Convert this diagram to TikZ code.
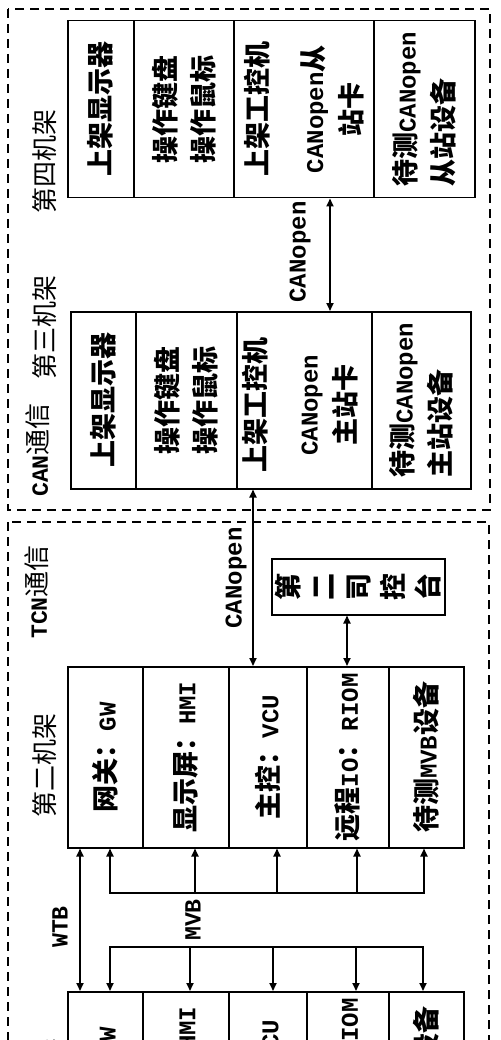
\documentclass[tikz,border=0pt]{standalone}
\usepackage{fontspec}
\setmainfont{Noto Sans CJK SC}
\newfontfamily\latfont{Liberation Mono}[Scale=0.89]
\newcommand\latn[1]{{\latfont\bfseries #1}}
\usetikzlibrary{arrows.meta}
\tikzset{
  box/.style={draw, line width=1.5pt, inner sep=0pt, anchor=north west},
  btxt/.style={rotate=90, font=\fontsize{27pt}{38pt}\selectfont\bfseries, align=center, inner sep=0pt},
  lbl/.style={rotate=90, font=\fontsize{26pt}{30pt}\selectfont, inner sep=0pt},
  conn/.style={line width=1.8pt, {Triangle[length=8pt,width=7pt]}-{Triangle[length=8pt,width=7pt]}},
  bus/.style={line width=1.8pt, line cap=rect},
  busarr/.style={line width=1.8pt, -{Triangle[length=8pt,width=7pt]}},
  frame/.style={line width=1.5pt, dash pattern=on 9pt off 6pt}
}
\begin{document}
\begin{tikzpicture}[x=1pt,y=-1pt]
\useasboundingbox (0,0) rectangle (500,1040);
\clip (0,0) rectangle (500,1040);
% frames
\draw[frame] (8,9) rectangle (490,510);
\draw[frame] (8,522) rectangle (489,1120);
% rack 4
\node[box, minimum width=66pt, minimum height=177pt] (r4a) at (67,20) {};
\node[box, minimum width=100pt, minimum height=177pt] (r4b) at (133,20) {};
\node[box, minimum width=140pt, minimum height=177pt] (r4c) at (233,20) {};
\node[box, minimum width=101pt, minimum height=177pt] (r4d) at (373,20) {};
% rack 3
\node[box, minimum width=65pt, minimum height=177pt] (r3a) at (70,311) {};
\node[box, minimum width=101pt, minimum height=177pt] (r3b) at (135,311) {};
\node[box, minimum width=135pt, minimum height=177pt] (r3c) at (236,311) {};
\node[box, minimum width=99pt, minimum height=177pt] (r3d) at (371,311) {};
% rack 2
\node[box, minimum width=75pt, minimum height=181pt] (r2a) at (67,666) {};
\node[box, minimum width=86pt, minimum height=181pt] (r2b) at (142,666) {};
\node[box, minimum width=78pt, minimum height=181pt] (r2c) at (228,666) {};
\node[box, minimum width=82pt, minimum height=181pt] (r2d) at (306,666) {};
\node[box, minimum width=75pt, minimum height=181pt] (r2e) at (388,666) {};
% rack 1
\node[box, minimum width=75pt, minimum height=181pt] (r1a) at (67,991) {};
\node[box, minimum width=86pt, minimum height=181pt] (r1b) at (142,991) {};
\node[box, minimum width=78pt, minimum height=181pt] (r1c) at (228,991) {};
\node[box, minimum width=82pt, minimum height=181pt] (r1d) at (306,991) {};
\node[box, minimum width=75pt, minimum height=181pt] (r1e) at (388,991) {};
% second driver desk
\node[box, minimum width=173pt, minimum height=56pt] (sk) at (271,558) {};
% texts rack 4
\node[btxt] (t4a) at (r4a.center) {上架显示器};
\node[btxt] (t4b) at (r4b.center) {操作键盘\\操作鼠标};
\node[btxt] (t4c) at (r4c.center) {上架工控机\\[18pt]\latn{CANopen}从\\站卡};
\node[btxt, align=left] (t4d) at (r4d.center) {待测\latn{CANopen}\\从站设备};
% texts rack 3
\node[btxt] (t3a) at (r3a.center) {上架显示器};
\node[btxt] (t3b) at (r3b.center) {操作键盘\\操作鼠标};
\node[btxt] (t3c) at ([xshift=-4pt,yshift=-5pt]r3c.center) {上架工控机\\[14pt]\latn{CANopen}\\主站卡};
\node[btxt, align=left] (t3d) at (r3d.center) {待测\latn{CANopen}\\主站设备};
% texts rack 2
\node[btxt] (t2a) at (r2a.center) {网关：\latn{GW}};
\node[btxt] (t2b) at (r2b.center) {显示屏：\latn{HMI}};
\node[btxt] (t2c) at (r2c.center) {主控：\latn{VCU}};
\node[btxt] (t2d) at (r2d.center) {远程\latn{IO}：\latn{RIOM}};
\node[btxt] (t2e) at (r2e.center) {待测\latn{MVB}设备};
% texts rack 1
\node[btxt] (t1a) at (r1a.center) {网关：\latn{GW}};
\node[btxt] (t1b) at (r1b.center) {显示屏：\latn{HMI}};
\node[btxt] (t1c) at (r1c.center) {主控：\latn{VCU}};
\node[btxt] (t1d) at (r1d.center) {远程\latn{IO}：\latn{RIOM}};
\node[btxt] (t1e) at (r1e.center) {待测\latn{MVB}设备};
% desk text
\node[btxt, font=\fontsize{27pt}{35pt}\selectfont\bfseries] (tsk) at (sk.center) {第\\二\\司\\控\\台};
% labels
\node[lbl] (l4) at (45,162) {第四机架};
\node[lbl] (l3) at (45,327) {第三机架};
\node[lbl] (lcan) at (38,450) {\latn{CAN}通信};
\node[lbl] (ltcn) at (37,592) {\latn{TCN}通信};
\node[lbl] (l2) at (45,765) {第二机架};
\node[lbl] (l1) at (45,1090) {第一机架};
\node[lbl, font=\fontsize{27pt}{30pt}\selectfont] (can1) at (300,252) {\latn{CANopen}};
\node[lbl, font=\fontsize{27pt}{30pt}\selectfont] (can2) at (236,578) {\latn{CANopen}};
\node[lbl] (wtb) at (60,927) {\latn{WTB}};
\node[lbl] (mvb) at (193,920) {\latn{MVB}};
% connectors
\coordinate (xa) at (330,0);
\coordinate (xb) at (253,0);
\coordinate (xc) at (347,0);
\coordinate (xw) at (80,0);
\draw[conn] (r4c.south -| xa) -- (r3c.north -| xa);
\draw[conn] (r3c.south -| xb) -- (r2c.north -| xb);
\draw[conn] (sk.south -| xc) -- (r2d.north -| xc);
\draw[conn] (r2a.south -| xw) -- (r1a.north -| xw);
% MVB buses
\coordinate (u1) at (110,893);
\coordinate (u2) at (195,893);
\coordinate (u3) at (277,893);
\coordinate (u4) at (357,893);
\coordinate (u5) at (424,893);
\draw[bus] (u1) -- (u5);
\draw[busarr] (u1) -- (u1 |- r2a.south);
\draw[busarr] (u2) -- (u2 |- r2b.south);
\draw[busarr] (u3) -- (u3 |- r2c.south);
\draw[busarr] (u4) -- (u4 |- r2d.south);
\draw[busarr] (u5) -- (u5 |- r2e.south);
\coordinate (d1) at (110,947);
\coordinate (d2) at (190,947);
\coordinate (d3) at (273,947);
\coordinate (d4) at (356,947);
\coordinate (d5) at (423,947);
\draw[bus] (d1) -- (d5);
\draw[busarr] (d1) -- (d1 |- r1a.north);
\draw[busarr] (d2) -- (d2 |- r1b.north);
\draw[busarr] (d3) -- (d3 |- r1c.north);
\draw[busarr] (d4) -- (d4 |- r1d.north);
\draw[busarr] (d5) -- (d5 |- r1e.north);
\end{tikzpicture}
\end{document}
